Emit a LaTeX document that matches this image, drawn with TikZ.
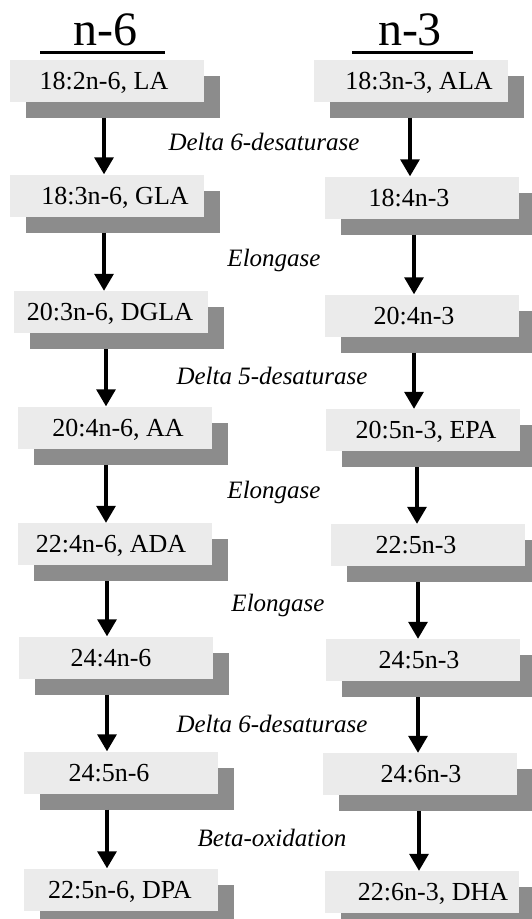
\documentclass[tikz,border=0pt]{standalone}
\usepackage{fontspec}
\setmainfont{Liberation Serif}
\usetikzlibrary{arrows.meta,shadows,calc}
\definecolor{boxgray}{HTML}{EBEBEB}
\definecolor{shadowgray}{HTML}{8C8C8C}
\begin{document}
\begin{tikzpicture}[x=1pt,y=-1pt,
  fa/.style={fill=boxgray, draw=none, minimum width=194pt, minimum height=42pt, inner sep=0pt,
    drop shadow={shadow xshift=16pt, shadow yshift=-16pt, fill=shadowgray, opacity=1}},
  ft/.style={anchor=base, inner sep=0pt, font=\fontsize{26}{30}\selectfont},
  enz/.style={anchor=base, inner sep=0pt, font=\fontsize{25}{30}\selectfont\itshape},
  hd/.style={anchor=base, inner sep=0pt, font=\fontsize{48}{56}\selectfont},
  uline/.style={line width=3pt},
  arr/.style={line width=3.2pt, -{Triangle[width=19pt,length=17pt]}}]
\useasboundingbox (0,0) rectangle (531,919);

% headings
\node[hd] (h6) at (105.5,45) {n-6};
\node[hd] (h3) at (410,45) {n-3};
\coordinate (u6a) at (40,52); \coordinate (u6b) at (165,52);
\coordinate (u3a) at (352,52); \coordinate (u3b) at (473,52);
\draw[uline] (u6a) -- (u6b);
\draw[uline] (u3a) -- (u3b);

% left column boxes
\node[fa] (L1) at (107,80.5) {};
\node[fa] (L2) at (107,195.5) {};
\node[fa] (L3) at (111,312) {};
\node[fa] (L4) at (115,427.5) {};
\node[fa] (L5) at (115,544) {};
\node[fa] (L6) at (116,657.5) {};
\node[fa] (L7) at (121,772.5) {};
\node[fa] (L8) at (121,889.5) {};
% right column boxes
\node[fa] (R1) at (410.5,80.5) {};
\node[fa] (R2) at (422,197.5) {};
\node[fa] (R3) at (422,315.5) {};
\node[fa] (R4) at (423,430) {};
\node[fa] (R5) at (428,545) {};
\node[fa] (R6) at (423,660) {};
\node[fa] (R7) at (420,774) {};
\node[fa] (R8) at (421.5,892) {};

% texts
\node[ft] (tL1) at (104,89) {18:2n-6, LA};
\node[ft] (tL2) at (115,204) {18:3n-6, GLA};
\node[ft] (tL3) at (110,320.5) {20:3n-6, DGLA};
\node[ft] (tL4) at (118,436) {20:4n-6, AA};
\node[ft] (tL5) at (111,552.5) {22:4n-6, ADA};
\node[ft] (tL6) at (111,666) {24:4n-6};
\node[ft] (tL7) at (109,781) {24:5n-6};
\node[ft] (tL8) at (120,898) {22:5n-6, DPA};
\node[ft] (tR1) at (419,89) {18:3n-3, ALA};
\node[ft] (tR2) at (409,206) {18:4n-3};
\node[ft] (tR3) at (414,324) {20:4n-3};
\node[ft] (tR4) at (426,438.5) {20:5n-3, EPA};
\node[ft] (tR5) at (416,553.5) {22:5n-3};
\node[ft] (tR6) at (419,668.5) {24:5n-3};
\node[ft] (tR7) at (421,782.5) {24:6n-3};
\node[ft] (tR8) at (433,900.5) {22:6n-3, DHA};

% enzyme labels
\node[enz] (e1) at (264,150) {Delta 6-desaturase};
\node[enz] (e2) at (274,266) {Elongase};
\node[enz] (e3) at (272,384) {Delta 5-desaturase};
\node[enz] (e4) at (274,498) {Elongase};
\node[enz] (e5) at (278,611) {Elongase};
\node[enz] (e6) at (272,732) {Delta 6-desaturase};
\node[enz] (e7) at (272,846) {Beta-oxidation};

% arrow x positions
\coordinate (xL1) at (104,0); \coordinate (xL2) at (104,0); \coordinate (xL3) at (106,0);
\coordinate (xL4) at (106,0); \coordinate (xL5) at (107,0); \coordinate (xL6) at (107,0);
\coordinate (xL7) at (107,0);
\coordinate (xR1) at (410,0); \coordinate (xR2) at (414,0); \coordinate (xR3) at (414,0);
\coordinate (xR4) at (417,0); \coordinate (xR5) at (418,0); \coordinate (xR6) at (418,0);
\coordinate (xR7) at (419,0);

\foreach \a/\b in {L1/L2,L2/L3,L3/L4,L4/L5,L5/L6,L6/L7,L7/L8,
                   R1/R2,R2/R3,R3/R4,R4/R5,R5/R6,R6/R7,R7/R8}{
  \draw[arr] ($(\a.south -| x\a)+(0,16)$) -- (\b.north -| x\a);
}
\end{tikzpicture}
\end{document}
